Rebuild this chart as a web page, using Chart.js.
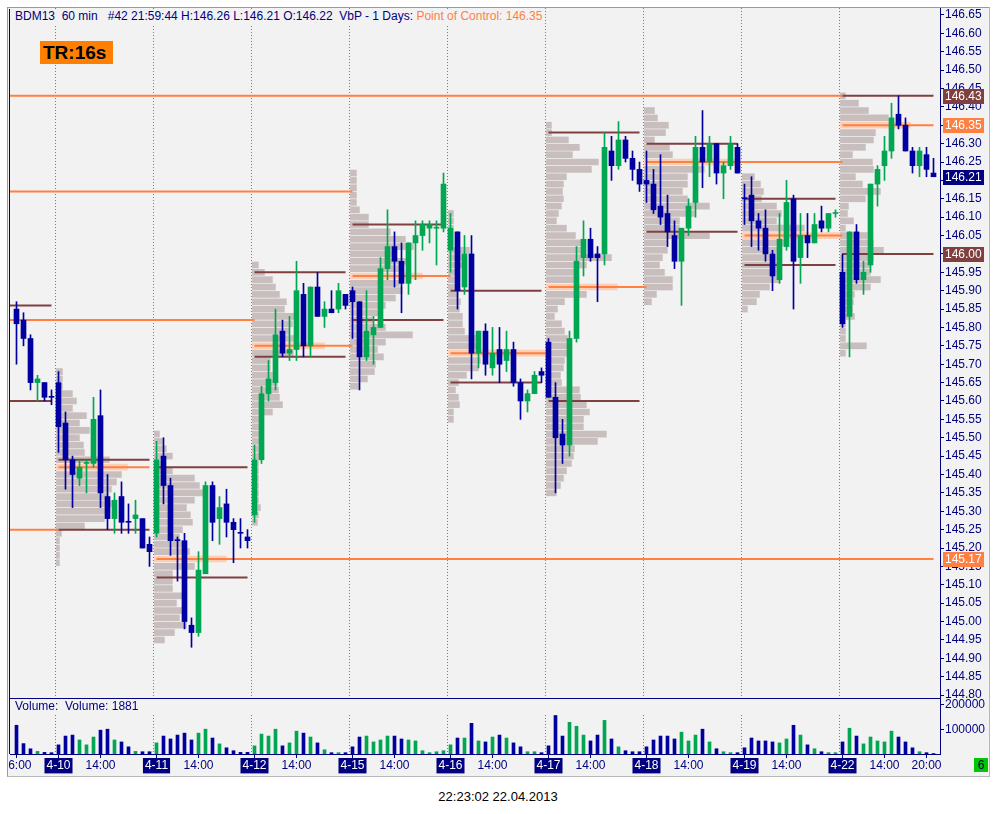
<!DOCTYPE html>
<html>
<head>
<meta charset="utf-8">
<script src="https://cdn.jsdelivr.net/npm/chart.js@4.4.1/dist/chart.umd.min.js"></script>
<style>
  html, body { margin: 0; padding: 0; background: #fff; width: 996px; height: 814px; overflow: hidden;
    font-family: Arial, "Liberation Sans", sans-serif; }
  #frame { position: absolute; left: 7px; top: 7px; width: 981px; height: 768px; background: #f2f2f2;
    border-left: 1px solid #9a9a9a; border-top: 1px solid #9a9a9a; border-right: 1px solid #b8b8b8; border-bottom: 1px solid #b8b8b8; }
  canvas { position: absolute; left: 9px; }
  #price { top: 0; }
  #vol { top: 698px; }
  .hline { position: absolute; background: #000080; }
  #title { position: absolute; left: 13px; top: 9px; height: 17px; line-height: 15px; padding: 0 2px; background: #f2f2f2;
    font-size: 12px; color: #000080; white-space: pre; }
  #title .poc { color: #ff8040; }
  #tr { position: absolute; left: 40px; top: 41px; width: 70px; height: 23px; line-height: 23px; padding-left: 3px;
    background: #ff8000; color: #000; font-weight: bold; font-size: 19px; }
  #vlabel { position: absolute; left: 15px; top: 699px; line-height: 15px; font-size: 12px; color: #000080; white-space: pre; }
  #six { position: absolute; left: 974px; top: 758px; width: 14px; height: 14px; line-height: 14px; text-align: center;
    background: #00c800; color: #000040; font-size: 12px; }
  #stamp { position: absolute; left: 0; top: 789px; width: 996px; text-align: center; line-height: 16px; font-size: 13px; color: #000; }
</style>
</head>
<body>
<div id="frame"></div>
<canvas id="price" width="981" height="698"></canvas>
<canvas id="vol" width="981" height="80"></canvas>
<div class="hline" style="left:9px;top:9px;width:1px;height:745px"></div>
<div class="hline" style="left:9px;top:698px;width:931px;height:1px"></div>
<div id="title">BDM13  60 min   #42 21:59:44 H:146.26 L:146.21 O:146.22  VbP - 1 Days: <span class="poc">Point of Control: 146.35</span></div>
<div id="tr">TR:16s</div>
<div id="vlabel">Volume:  Volume: 1881</div>
<div id="six">6</div>
<div id="stamp">22:23:02 22.04.2013</div>
<script>
// sessions: 4-09 only shows its last bars
const days = ['4-09', '4-10', '4-11', '4-12', '4-15', '4-16', '4-17', '4-18', '4-19', '4-22'];
const firstHour = [16, 8, 8, 8, 8, 8, 8, 8, 8, 8];
const lastHour = 21;

// hourly OHLC, one row per session
const open = [
  145.85,145.82,145.77,145.65,145.65,145.61,
  145.65,145.54,145.44,145.39,145.43,145.43,145.56,145.34,145.28,145.34,145.27,145.28,145.28,145.21,
  145.24,145.45,145.37,145.22,145.22,144.99,144.97,145.13,145.37,145.28,145.32,145.27,145.24,145.23,
  145.29,145.44,145.62,145.65,145.79,145.73,145.74,145.89,145.75,145.91,145.83,145.85,145.85,145.89,
  145.90,145.87,145.72,145.78,145.80,145.96,146.02,145.98,145.92,146.03,146.05,146.07,146.07,146.07,
  146.01,146.06,145.91,146.00,145.73,145.79,145.69,145.74,145.71,145.74,145.65,145.60,145.62,145.68,
  145.76,145.61,145.51,145.48,145.77,145.99,146.04,146.00,146.00,146.28,146.24,146.31,146.26,146.23,
  146.20,146.19,146.13,146.11,146.05,145.98,146.07,146.14,146.29,146.25,146.30,146.22,146.24,146.29,
  146.15,146.16,146.09,146.07,146.00,145.93,146.02,146.15,145.99,146.05,146.03,146.09,146.07,146.11,
  145.95,145.83,146.06,145.93,145.97,146.19,146.24,146.28,146.38,146.35,146.28,146.24,146.27,146.22
];
const high = [
  145.87,145.84,145.78,145.67,145.65,145.63,
  145.68,145.57,145.45,145.44,145.44,145.61,145.63,145.40,145.35,145.38,145.32,145.33,145.28,145.23,
  145.49,145.50,145.39,145.23,145.24,145.01,145.19,145.38,145.38,145.34,145.36,145.28,145.28,145.25,
  145.48,145.64,145.71,145.85,145.82,145.83,145.98,145.92,145.91,145.95,145.87,145.90,145.92,145.89,
  145.91,145.87,145.90,145.83,145.99,146.12,146.06,146.03,146.03,146.09,146.09,146.09,146.09,146.22,
  146.11,146.06,146.05,146.05,145.79,145.81,145.80,145.80,145.79,145.76,145.66,145.63,145.68,145.69,
  145.77,145.65,145.55,145.79,146.02,146.09,146.07,146.02,146.33,146.32,146.36,146.32,146.28,146.25,
  146.28,146.23,146.27,146.16,146.09,146.07,146.15,146.32,146.39,146.32,146.30,146.25,146.32,146.30,
  146.19,146.21,146.11,146.12,146.01,146.11,146.20,146.16,146.11,146.11,146.11,146.13,146.11,146.12,
  146.00,146.06,146.08,145.98,146.19,146.24,146.32,146.41,146.43,146.37,146.29,146.29,146.29,146.26
];
const low = [
  145.70,145.75,145.63,145.60,145.60,145.59,
  145.46,145.36,145.31,145.37,145.35,145.42,145.31,145.25,145.24,145.24,145.24,145.24,145.20,145.15,
  145.23,145.32,145.18,145.11,144.98,144.93,144.96,145.13,145.22,145.21,145.23,145.16,145.20,145.20,
  145.27,145.43,145.60,145.63,145.72,145.71,145.71,145.72,145.72,145.83,145.80,145.84,145.84,145.85,
  145.77,145.63,145.71,145.70,145.80,145.93,145.91,145.84,145.89,145.93,146.01,146.03,145.97,146.06,
  145.95,145.85,145.89,145.66,145.69,145.67,145.67,145.65,145.68,145.64,145.55,145.57,145.62,145.65,
  145.61,145.35,145.43,145.45,145.76,145.94,145.98,145.87,145.97,146.20,146.23,146.25,146.20,146.17,
  146.14,146.11,146.08,146.02,145.96,145.86,146.05,146.10,146.18,146.21,146.19,146.15,146.23,146.22,
  146.08,146.02,146.01,145.98,145.90,145.92,146.01,145.85,145.92,145.99,146.03,146.06,146.06,146.10,
  145.80,145.72,145.92,145.89,145.95,146.13,146.20,146.26,146.34,146.28,146.22,146.21,146.21,146.21
];
const close = [
  145.81,145.77,145.65,145.66,145.61,145.61,
  145.53,145.44,145.40,145.42,145.43,145.55,145.35,145.28,145.33,145.27,145.27,145.29,145.20,145.19,
  145.44,145.37,145.22,145.22,145.00,144.97,145.14,145.37,145.27,145.31,145.27,145.25,145.24,145.22,
  145.44,145.62,145.66,145.78,145.73,145.74,145.90,145.75,145.91,145.83,145.85,145.84,145.90,145.86,
  145.87,145.72,145.79,145.80,145.96,146.02,145.98,145.92,146.03,146.05,146.08,146.08,146.07,146.19,
  146.07,145.90,146.00,145.73,145.79,145.70,145.73,145.70,145.74,145.65,145.60,145.62,145.67,145.67,
  145.61,145.50,145.48,145.77,145.98,146.04,145.99,145.99,146.29,146.24,146.31,146.26,146.23,146.19,
  146.19,146.12,146.10,146.06,145.98,146.07,146.13,146.29,146.25,146.30,146.22,146.24,146.30,146.22,
  146.15,146.09,146.07,146.00,145.94,146.04,146.14,145.98,146.05,146.03,146.08,146.07,146.11,146.11,
  145.81,146.06,145.93,145.95,146.19,146.23,146.28,146.37,146.35,146.28,146.24,146.28,146.23,146.21
];
// bars where open == close but printed as an up bar
const greenDoji = [10, 60, 117];

const volume = [
  116000,42000,21000,10500,6600,5300,
  36900,72400,76400,56600,36900,68500,96100,100100,56600,48700,29000,10500,9200,9200,
  44800,72400,60600,76400,84300,56600,84300,100100,64500,40800,25000,13200,6600,6600,
  32900,80300,72400,100100,32900,44800,92200,84300,68500,44800,17100,5300,5300,5300,
  29000,68500,72400,48700,56600,72400,72400,60600,56600,52700,13200,5300,9200,13200,
  36900,64500,64500,123800,52700,48700,68500,76400,64500,44800,29000,9200,9200,5300,
  32900,155400,72400,127700,112000,76400,52700,76400,135700,60600,29000,13200,9200,9200,
  29000,56600,72400,72400,60600,88200,52700,76400,100100,48700,21100,9200,5300,5300,
  25000,64500,52700,52700,48700,44800,60600,115900,76400,36900,21100,9200,5300,5300,
  48700,104000,72400,40800,68500,52700,48700,92200,68500,48700,25000,9200,5300,1881
];
const volTicks = [100000, 200000];

// price axis labels
const priceTicks = [
  144.80, 144.85, 144.90, 144.95, 145.00, 145.05, 145.10, 145.15, 145.20, 145.25,
  145.30, 145.35, 145.40, 145.45, 145.50, 145.55, 145.60, 145.65, 145.70, 145.75,
  145.80, 145.85, 145.90, 145.95, 146.00, 146.05, 146.10, 146.15, 146.20, 146.25,
  146.30, 146.35, 146.40, 146.45, 146.50, 146.55, 146.60, 146.65
];

// volume-by-price per session (4-10 .. 4-22), rows every 0.02 from profLow upward
const profLow = [145.16, 144.95, 145.27, 145.64, 145.55, 145.35, 145.87, 145.85, 145.73];
const pocPrice = [145.42, 145.17, 145.75, 145.94, 145.73, 145.91, 146.25, 146.05, 146.35];
const prof0410 = [3,3,3,3,5,28,48,50,55,52,55,60,65,71,53,28,27,23,33,23,30,16,20,16,6,6,6];
const prof0411 = [10,20,32,25,30,22,28,18,18,18,40,72,35,30,25,28,38,36,32,40,49,45,40,18,10,18,12,8,5];
const prof0412 = [5,6,8,6,6,6,6,6,6,7,6,7,7,8,8,20,30,27,26,25,20,18,18,41,72,43,37,40,43,32,34,27,23,20,12,6];
const prof0415 = [8,17,24,25,33,27,35,62,35,22,28,35,45,52,49,72,50,57,45,63,55,40,18,18,9,6,6,6,6,6];
const prof0416 = [5,5,11,10,7,10,18,30,32,97,30,27,16,14,14,11,12,10,6,6,10,15,16,21,5,5,5,5,5];
const prof0417 = [10,14,17,20,25,27,28,51,60,37,37,43,40,34,33,15,14,17,18,25,24,21,18,15,8,11,18,40,71,28,
                  29,40,65,38,38,29,20,10,12,15,17,16,17,20,45,52,26,33,22,5,5];
const prof0418 = [7,12,28,28,20,15,18,23,23,65,35,35,50,65,43,38,43,43,60,94,28,25,10,21,24,13,10];
const prof0419 = [5,14,17,27,38,38,38,34,37,45,100,62,34,39,34,19,21,18,12];
const prof0422 = [5,26,5,5,5,14,12,13,14,30,40,30,30,33,43,33,27,5,13,7,8,25,40,22,15,33,32,12,25,33,35,70,48,28,18,5];
const profiles = [prof0410, prof0411, prof0412, prof0415, prof0416, prof0417, prof0418, prof0419, prof0422];

// value area high / low per session (4-09 .. 4-22)
const vaHigh = [145.86, 145.44, 145.42, 145.95, 146.08, 145.90, 146.33, 146.30, 146.15, 146.43];
const vaLow  = [145.60, 145.25, 145.12, 145.72, 145.82, 145.65, 145.60, 146.06, 145.97, 146.00];

// POC lines: [price, from bar (null = left edge), to bar]
const pocLines = [
  [146.43, null, 118], [146.17, null, 48], [145.82, null, 34], [145.25, null, 6],
  [145.42, 6, 19], [145.17, 20, 131], [145.75, 34, 48], [145.94, 48, 62], [145.73, 62, 76],
  [145.91, 76, 90], [146.25, 90, 118], [146.05, 104, 118], [146.35, 118, 131]
];

const markPrices = [146.43, 146.35, 146.21, 146.00, 145.17];
const markColors = ['#804040', '#ff8040', '#000080', '#804040', '#ff8040'];

const navy = '#000080';
const upColor = '#00a651';
const downColor = '#0000a0';
const fontFamily = 'Arial, "Liberation Sans", sans-serif';
const xMin = -6.5 / 7;
const xMax = xMin + 930 / 7;
const profScale = 1 / 7;

// bar -> session / hour
const barDay = [], barHour = [], dayFirstBar = [], dayLastBar = [];
days.forEach((d, k) => {
  dayFirstBar.push(barDay.length);
  for (let h = firstHour[k]; h <= lastHour; h++) { barDay.push(k); barHour.push(h); }
  dayLastBar.push(barDay.length - 1);
});
const candleColor = open.map((o, i) =>
  close[i] > o || (close[i] === o && greenDoji.includes(i)) ? upColor : downColor);

const xTicks = barHour.map((h, i) => i).filter(i =>
  barHour[i] === 8 || barHour[i] === 14 || i === 0 || (barDay[i] === days.length - 1 && barHour[i] === 20));
const isDayTick = v => barHour[v] === 8;
const tickLabel = v => isDayTick(v) ? days[barDay[v]] : barHour[v] + ':00';

// profile rows
const profData = [], profIsPoc = [];
profiles.forEach((vals, k) => {
  const start = dayFirstBar[k + 1] - 0.3;
  vals.forEach((v, j) => {
    const p = profLow[k] + 0.02 * j;
    profData.push({ y: p, x: [start, start + v * profScale] });
    profIsPoc.push(Math.abs(p - pocPrice[k]) < 0.005);
  });
});

const segPoints = segs => segs.flatMap(([p, a, b]) => [{ x: a === null ? xMin : a, y: p }, { x: b, y: p }, { x: b, y: null }]);
const vaSegs = [];
days.forEach((d, k) => {
  const a = k === 0 ? null : dayFirstBar[k];
  vaSegs.push([vaHigh[k], a, dayLastBar[k]]);
  vaSegs.push([vaLow[k], a, dayLastBar[k]]);
});

// keep the plot box exactly where the layout padding puts it
const fixY = s => { s.width = 50; s.paddingTop = 0; s.paddingBottom = 0; };
const fixX = s => { s.height = 22; s.paddingLeft = 0; s.paddingRight = 0; };

const separators = {
  id: 'separators',
  beforeDatasetsDraw(chart, args, opts) {
    const { ctx, chartArea, scales: { x } } = chart;
    ctx.save();
    ctx.strokeStyle = '#7c7c7c';
    ctx.lineWidth = 1;
    ctx.setLineDash([1, 2]);
    dayFirstBar.slice(1).forEach(i => {
      const px = Math.round(x.getPixelForValue(i - 0.5)) + 0.5;
      ctx.beginPath();
      ctx.moveTo(px, chartArea.top + (opts.top || 0));
      ctx.lineTo(px, chartArea.bottom);
      ctx.stroke();
    });
    ctx.restore();
  }
};

const axisMarks = {
  id: 'axisMarks',
  afterDraw(chart) {
    const { ctx, scales: { y } } = chart;
    ctx.save();
    ctx.font = '12px ' + fontFamily;
    ctx.textBaseline = 'middle';
    markPrices.forEach((p, i) => {
      const py = y.getPixelForValue(p);
      ctx.fillStyle = markColors[i];
      ctx.fillRect(y.left + 3, Math.round(py) - 7, 41, 15);
      ctx.fillStyle = '#ffffff';
      ctx.fillText(p.toFixed(2), y.left + 5, Math.round(py) + 1);
    });
    ctx.restore();
  }
};

const baseOpts = {
  responsive: false,
  animation: false,
  devicePixelRatio: 1,
  events: [],
  plugins: { legend: { display: false }, tooltip: { enabled: false } }
};

new Chart(document.getElementById('price'), {
  type: 'bar',
  data: {
    datasets: [
      {
        label: 'Volume by price', indexAxis: 'y', grouped: false, barThickness: 6, order: 5,
        data: profData,
        backgroundColor: ctx => profIsPoc[ctx.dataIndex] ? '#fbcfb5' : '#c9bebe'
      },
      {
        type: 'line', label: 'Value area', data: segPoints(vaSegs), order: 3,
        borderColor: '#804040', borderWidth: 2, pointRadius: 0, spanGaps: false
      },
      {
        type: 'line', label: 'Point of control', data: segPoints(pocLines), order: 4,
        borderColor: '#ff8040', borderWidth: 2, pointRadius: 0, spanGaps: false
      },
      {
        label: 'Wick', grouped: false, barThickness: 1, order: 2,
        data: high.map((h, i) => ({ x: i, y: [low[i], h] })),
        backgroundColor: ctx => candleColor[ctx.dataIndex]
      },
      {
        label: 'Body', grouped: false, barThickness: 5, minBarLength: 1, order: 1,
        data: open.map((o, i) => ({ x: i, y: [Math.min(o, close[i]), Math.max(o, close[i])] })),
        backgroundColor: ctx => candleColor[ctx.dataIndex]
      }
    ]
  },
  options: Object.assign({}, baseOpts, {
    layout: { padding: { left: 1, right: 0, top: 8, bottom: 0 } },
    plugins: Object.assign({}, baseOpts.plugins, { separators: { top: 0 } }),
    scales: {
      x: { type: 'linear', display: false, min: xMin, max: xMax, offset: false, grid: { offset: false } },
      y: {
        type: 'linear', position: 'right', min: 144.792, max: 146.669, bounds: 'data',
        offset: false,
        afterFit: fixY,
        afterBuildTicks: s => { s.ticks = priceTicks.map(v => ({ value: v })); },
        border: { color: navy, width: 1 },
        grid: { drawOnChartArea: false, tickLength: 4, color: navy, offset: false },
        ticks: {
          autoSkip: false, padding: 1, color: navy,
          font: { family: fontFamily, size: 12 }, callback: v => v.toFixed(2)
        }
      }
    }
  }),
  plugins: [separators, axisMarks]
});

new Chart(document.getElementById('vol'), {
  type: 'bar',
  data: {
    datasets: [{
      label: 'Volume', grouped: false, barThickness: 3,
      data: volume.map((v, i) => ({ x: i, y: v })),
      backgroundColor: ctx => candleColor[ctx.dataIndex]
    }]
  },
  options: Object.assign({}, baseOpts, {
    layout: { padding: { left: 1, right: 0, top: 0, bottom: 2 } },
    plugins: Object.assign({}, baseOpts.plugins, { separators: { top: 17 } }),
    scales: {
      x: {
        type: 'linear', min: xMin, max: xMax, offset: false,
        afterFit: fixX,
        afterBuildTicks: s => { s.ticks = xTicks.map(v => ({ value: v })); },
        border: { color: navy, width: 1 },
        grid: { drawOnChartArea: false, tickLength: 4, color: navy, offset: false },
        ticks: {
          autoSkip: false, maxRotation: 0, minRotation: 0, padding: 0,
          font: { family: fontFamily, size: 12 },
          color: ctx => isDayTick(ctx.tick.value) ? '#ffffff' : navy,
          showLabelBackdrop: ctx => isDayTick(ctx.tick.value),
          backdropColor: navy,
          backdropPadding: { top: 0, bottom: 1, left: 2, right: 2 },
          callback: v => tickLabel(v)
        }
      },
      y: {
        type: 'linear', position: 'right', min: 0, max: 226000, bounds: 'data',
        afterFit: fixY,
        afterBuildTicks: s => { s.ticks = volTicks.map(v => ({ value: v })); },
        border: { color: navy, width: 1 },
        grid: { drawOnChartArea: false, tickLength: 4, color: navy },
        ticks: { padding: 1, color: navy, font: { family: fontFamily, size: 12 }, callback: v => String(v) }
      }
    }
  }),
  plugins: [separators]
});
</script>
</body>
</html>
